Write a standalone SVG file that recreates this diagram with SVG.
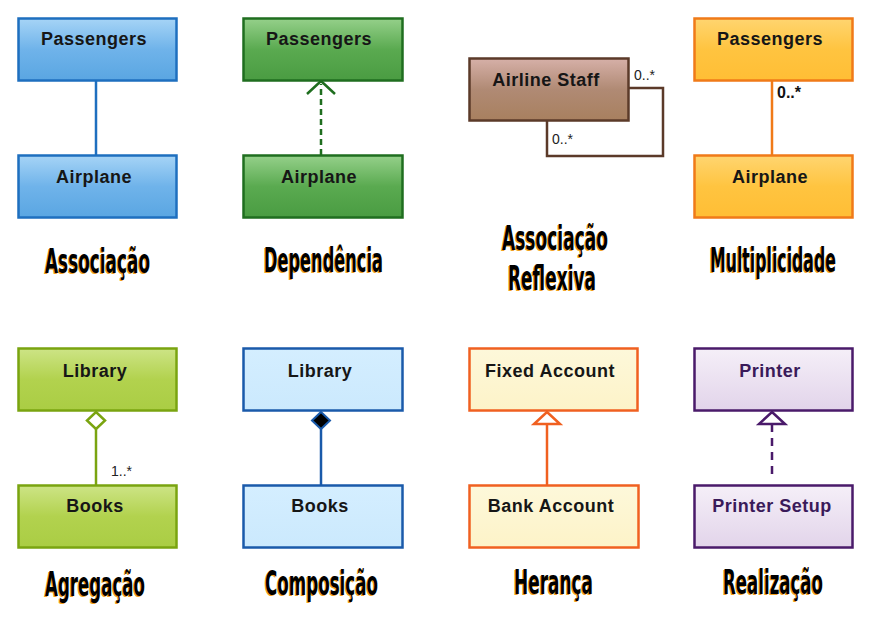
<svg xmlns="http://www.w3.org/2000/svg" width="873" height="618" viewBox="0 0 873 618">
<defs>
<linearGradient id="gBlue" x1="0" y1="0" x2="0" y2="1"><stop offset="0" stop-color="#a6d4f6"/><stop offset="0.5" stop-color="#6fb3ea"/><stop offset="1" stop-color="#5aa6e2"/></linearGradient>
<linearGradient id="gGreen" x1="0" y1="0" x2="0" y2="1"><stop offset="0" stop-color="#95d08a"/><stop offset="0.5" stop-color="#5aaa50"/><stop offset="1" stop-color="#4a9c42"/></linearGradient>
<linearGradient id="gBrown" x1="0" y1="0" x2="0" y2="1"><stop offset="0" stop-color="#d6b0a8"/><stop offset="0.5" stop-color="#b08a74"/><stop offset="1" stop-color="#a8805f"/></linearGradient>
<linearGradient id="gOrange" x1="0" y1="0" x2="0" y2="1"><stop offset="0" stop-color="#ffd570"/><stop offset="0.5" stop-color="#ffc440"/><stop offset="1" stop-color="#ffbe35"/></linearGradient>
<linearGradient id="gLime" x1="0" y1="0" x2="0" y2="1"><stop offset="0" stop-color="#cde486"/><stop offset="0.5" stop-color="#b2d24e"/><stop offset="1" stop-color="#aacd44"/></linearGradient>
<linearGradient id="gLight" x1="0" y1="0" x2="0" y2="1"><stop offset="0" stop-color="#d4eeff"/><stop offset="1" stop-color="#cbe9fd"/></linearGradient>
<linearGradient id="gCream" x1="0" y1="0" x2="0" y2="1"><stop offset="0" stop-color="#fdf8da"/><stop offset="1" stop-color="#fdf3c8"/></linearGradient>
<linearGradient id="gLilac" x1="0" y1="0" x2="0" y2="1"><stop offset="0" stop-color="#f5eff8"/><stop offset="1" stop-color="#e2d4ea"/></linearGradient>
</defs>
<style>
.n{font-family:"Liberation Sans",Arial,sans-serif;font-weight:bold;font-size:18px;letter-spacing:0.5px;fill:#161616;text-anchor:middle}
.m{font-family:"Liberation Sans",Arial,sans-serif;font-size:14px;fill:#222}
.mb{font-family:"Liberation Sans",Arial,sans-serif;font-size:16px;font-weight:bold;fill:#111}
.t{font-family:"DejaVu Sans Condensed","DejaVu Sans",sans-serif;font-weight:bold;font-size:34px;fill:#000}
.ts{font-family:"DejaVu Sans Condensed","DejaVu Sans",sans-serif;font-weight:bold;font-size:34px;fill:#f0a020}
.box{stroke-width:2.5}
</style>
<rect width="873" height="618" fill="#ffffff"/>

<g id="connectors" fill="none">
  <line x1="96" y1="81" x2="96" y2="155" stroke="#1e6fbf" stroke-width="2.5"/>
  <line x1="321" y1="155" x2="321" y2="84" stroke="#1f6e1f" stroke-width="2.5" stroke-dasharray="6,4"/>
  <polyline points="307,94 321,81 335,94" stroke="#1f6e1f" stroke-width="2.5"/>
  <polyline points="629,88 663,88 663,156 547,156 547,121" stroke="#5b3a29" stroke-width="2.5"/>
  <line x1="772" y1="81" x2="772" y2="155" stroke="#f07a18" stroke-width="2.5"/>
  <line x1="96" y1="429" x2="96" y2="485" stroke="#7aa410" stroke-width="2.5"/>
  <polygon points="96,412 105,420.5 96,429 87,420.5" fill="#ffffff" stroke="#7aa410" stroke-width="2.5"/>
  <line x1="321" y1="429" x2="321" y2="485" stroke="#1a5aaa" stroke-width="2.5"/>
  <polygon points="321,412 330,420.5 321,429 312,420.5" fill="#000000" stroke="#1a5aaa" stroke-width="2"/>
  <line x1="547" y1="424" x2="547" y2="485" stroke="#f06020" stroke-width="2.5"/>
  <polygon points="547,412 560,424 534,424" fill="#ffffff" stroke="#f06020" stroke-width="2.5"/>
  <line x1="772" y1="424" x2="772" y2="476" stroke="#4a1a6a" stroke-width="2.5" stroke-dasharray="8,6"/>
  <polygon points="772,412 785,424 759,424" fill="#ffffff" stroke="#4a1a6a" stroke-width="2.5"/>
  <text class="m" x="634" y="80">0..*</text>
  <text class="m" x="552" y="144">0..*</text>
  <text class="mb" x="777" y="98">0..*</text>
  <text class="m" x="111" y="476">1..*</text>
</g>

<g id="assoc-passengers"><rect class="box" x="18.5" y="18.5" width="158" height="62" fill="url(#gBlue)" stroke="#1e6fbf"/><text class="n" x="94" y="45">Passengers</text></g>
<g id="assoc-airplane"><rect class="box" x="18.5" y="155.5" width="158" height="62" fill="url(#gBlue)" stroke="#1e6fbf"/><text class="n" x="94" y="183">Airplane</text></g>

<g id="dep-passengers"><rect class="box" x="243.5" y="18.5" width="159" height="62" fill="url(#gGreen)" stroke="#1f6e1f"/><text class="n" x="319" y="45">Passengers</text></g>
<g id="dep-airplane"><rect class="box" x="243.5" y="155.5" width="159" height="62" fill="url(#gGreen)" stroke="#1f6e1f"/><text class="n" x="319" y="183">Airplane</text></g>

<g id="airline-staff"><rect class="box" x="469.5" y="58.5" width="159" height="62" fill="url(#gBrown)" stroke="#5b3a29"/><text class="n" x="546" y="86">Airline Staff</text></g>

<g id="mult-passengers"><rect class="box" x="694.5" y="18.5" width="158" height="62" fill="url(#gOrange)" stroke="#f07a18"/><text class="n" x="770" y="45">Passengers</text></g>
<g id="mult-airplane"><rect class="box" x="694.5" y="155.5" width="158" height="62" fill="url(#gOrange)" stroke="#f07a18"/><text class="n" x="770" y="183">Airplane</text></g>

<g id="agg-library"><rect class="box" x="18.5" y="348.5" width="158" height="62" fill="url(#gLime)" stroke="#7aa410"/><text class="n" x="95" y="377">Library</text></g>
<g id="agg-books"><rect class="box" x="18.5" y="485.5" width="158" height="62" fill="url(#gLime)" stroke="#7aa410"/><text class="n" x="95" y="512">Books</text></g>

<g id="comp-library"><rect class="box" x="243.5" y="348.5" width="159" height="62" fill="url(#gLight)" stroke="#1a5aaa"/><text class="n" x="320" y="377">Library</text></g>
<g id="comp-books"><rect class="box" x="243.5" y="485.5" width="159" height="62" fill="url(#gLight)" stroke="#1a5aaa"/><text class="n" x="320" y="512">Books</text></g>

<g id="fixed-account"><rect class="box" x="469.5" y="348.5" width="168" height="62" fill="url(#gCream)" stroke="#f06020"/><text class="n" x="550" y="377">Fixed Account</text></g>
<g id="bank-account"><rect class="box" x="469.5" y="485.5" width="169" height="62" fill="url(#gCream)" stroke="#f06020"/><text class="n" x="551" y="512">Bank Account</text></g>

<g id="printer"><rect class="box" x="694.5" y="348.5" width="158" height="62" fill="url(#gLilac)" stroke="#4a1a6a"/><text class="n" x="770" y="377" style="fill:#3a1a5a">Printer</text></g>
<g id="printer-setup"><rect class="box" x="694.5" y="485.5" width="158" height="62" fill="url(#gLilac)" stroke="#4a1a6a"/><text class="n" x="772" y="512" style="fill:#3a1a5a">Printer Setup</text></g>

<g id="labels">
  <text class="ts" x="44" y="274" textLength="105" lengthAdjust="spacingAndGlyphs">Associação</text>
  <text class="t" x="45" y="273" textLength="105" lengthAdjust="spacingAndGlyphs">Associação</text>
  <text class="ts" x="263" y="273" textLength="119" lengthAdjust="spacingAndGlyphs">Dependência</text>
  <text class="t" x="264" y="272" textLength="119" lengthAdjust="spacingAndGlyphs">Dependência</text>
  <text class="ts" x="501" y="251" textLength="106" lengthAdjust="spacingAndGlyphs">Associação</text>
  <text class="t" x="502" y="250" textLength="106" lengthAdjust="spacingAndGlyphs">Associação</text>
  <text class="ts" x="507" y="291" textLength="88" lengthAdjust="spacingAndGlyphs">Reflexiva</text>
  <text class="t" x="508" y="290" textLength="88" lengthAdjust="spacingAndGlyphs">Reflexiva</text>
  <text class="ts" x="709" y="273" textLength="126" lengthAdjust="spacingAndGlyphs">Multiplicidade</text>
  <text class="t" x="710" y="272" textLength="126" lengthAdjust="spacingAndGlyphs">Multiplicidade</text>
  <text class="ts" x="44" y="597" textLength="100" lengthAdjust="spacingAndGlyphs">Agregação</text>
  <text class="t" x="45" y="596" textLength="100" lengthAdjust="spacingAndGlyphs">Agregação</text>
  <text class="ts" x="264" y="596" textLength="113" lengthAdjust="spacingAndGlyphs">Composição</text>
  <text class="t" x="265" y="595" textLength="113" lengthAdjust="spacingAndGlyphs">Composição</text>
  <text class="ts" x="513" y="595" textLength="79" lengthAdjust="spacingAndGlyphs">Herança</text>
  <text class="t" x="514" y="594" textLength="79" lengthAdjust="spacingAndGlyphs">Herança</text>
  <text class="ts" x="722" y="595" textLength="100" lengthAdjust="spacingAndGlyphs">Realização</text>
  <text class="t" x="723" y="594" textLength="100" lengthAdjust="spacingAndGlyphs">Realização</text>
</g>
</svg>
